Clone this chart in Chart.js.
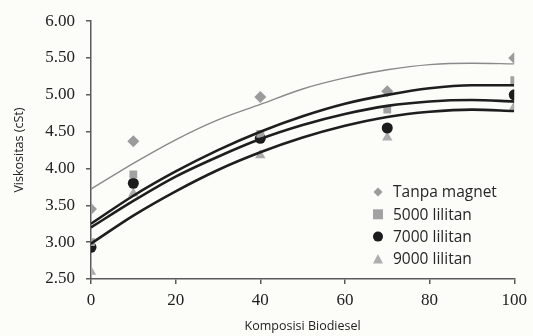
<!DOCTYPE html>
<html>
<head>
<meta charset="utf-8">
<script src="https://cdn.jsdelivr.net/npm/chart.js@4.4.1/dist/chart.umd.min.js"></script>
<style>
  html, body { margin: 0; padding: 0; background: #fcfcf8; }
  #wrap { width: 533px; height: 336px; }
</style>
</head>
<body>
<div id="wrap"><canvas id="viskositas"></canvas></div>
<script>
// data
var komposisi = [0, 10, 40, 70, 100];
var tanpaMagnet = [3.45, 4.37, 4.97, 5.05, 5.50];
var lilitan5000 = [3.00, 3.92, 4.47, 4.80, 5.20];
var lilitan7000 = [2.93, 3.80, 4.41, 4.55, 5.00];
var lilitan9000 = [2.60, 3.66, 4.18, 4.42, 4.84];

// trend lines (poly order 2), read at every 10 %
var trendX = [0, 10, 20, 30, 40, 50, 60, 70, 80, 90, 100];
var trendTanpa = [3.72, 4.07, 4.39, 4.66, 4.87, 5.08, 5.23, 5.34, 5.41, 5.43, 5.42];
var trend5000 = [3.25, 3.63, 3.96, 4.25, 4.50, 4.71, 4.88, 5.00, 5.09, 5.13, 5.13];
var trend7000 = [3.20, 3.56, 3.89, 4.16, 4.40, 4.59, 4.74, 4.85, 4.91, 4.93, 4.91];
var trend9000 = [2.98, 3.36, 3.69, 3.98, 4.22, 4.42, 4.58, 4.70, 4.77, 4.80, 4.78];

var seriesNames = ['Tanpa magnet', '5000 lilitan', '7000 lilitan', '9000 lilitan'];
var markerColors = ['#9b9b9b', '#a2a2a2', '#1c1c1c', '#adadad'];
var markerStyles = ['rectRot', 'rect', 'circle', 'triangle'];

function pts(xs, ys) {
   return xs.map(function (x, i) { return { x: x, y: ys[i] }; });
}

function trendSet(ys, color, width) {
   return {
      type: 'line',
      data: pts(trendX, ys),
      borderColor: color,
      borderWidth: width,
      pointRadius: 0,
      cubicInterpolationMode: 'monotone',
      fill: false,
      order: 1,
   };
}

function pointSet(i, ys, radius) {
   return {
      type: 'scatter',
      label: seriesNames[i],
      data: pts(komposisi, ys),
      pointStyle: markerStyles[i],
      pointRadius: radius,
      pointBackgroundColor: markerColors[i],
      pointBorderColor: markerColors[i],
      pointBorderWidth: 0,
      order: 2,
   };
}

var bgPlugin = {
   id: 'bg',
   beforeDraw: function (chart) {
      var ctx = chart.ctx;
      ctx.save();
      ctx.fillStyle = '#fcfcf8';
      ctx.fillRect(0, 0, chart.width, chart.height);
      ctx.restore();
   },
};

// legend inside the plot, bottom right
var legendPlugin = {
   id: 'insideLegend',
   afterDraw: function (chart) {
      var ctx = chart.ctx;
      var x0 = 378, y0 = 192, step = 22.3;
      ctx.save();
      ctx.font = '15.5px "Open Sans"';
      ctx.textBaseline = 'middle';
      for (var i = 0; i < seriesNames.length; i++) {
         var y = y0 + i * step;
         ctx.fillStyle = markerColors[i];
         ctx.beginPath();
         if (i == 0) {
            ctx.moveTo(x0, y - 4.5); ctx.lineTo(x0 + 4.5, y); ctx.lineTo(x0, y + 4.5); ctx.lineTo(x0 - 4.5, y);
         } else if (i == 1) {
            ctx.rect(x0 - 5, y - 5, 10, 10);
         } else if (i == 2) {
            ctx.arc(x0, y, 5, 0, Math.PI * 2);
         } else {
            ctx.moveTo(x0, y - 5); ctx.lineTo(x0 + 5, y + 4.5); ctx.lineTo(x0 - 5, y + 4.5);
         }
         ctx.closePath();
         ctx.fill();
         ctx.fillStyle = '#262626';
         ctx.fillText(seriesNames[i], x0 + 15, y + 1);
      }
      ctx.restore();
   },
};

new Chart('viskositas', {
   data: {
      datasets: [
         trendSet(trendTanpa, '#8a8a8a', 1.4),
         trendSet(trend5000, '#1e1e1e', 2.6),
         trendSet(trend7000, '#1e1e1e', 2.6),
         trendSet(trend9000, '#1e1e1e', 2.6),
         pointSet(0, tanpaMagnet, 6),
         pointSet(1, lilitan5000, 5.5),
         pointSet(2, lilitan7000, 5.5),
         pointSet(3, lilitan9000, 6),
      ],
   },
   options: {
      responsive: true,
      maintainAspectRatio: false,
      animation: false,
      layout: { padding: { left: 0, right: 15, top: 20, bottom: 0 } },
      plugins: {
         legend: { display: false },
         tooltip: { enabled: false },
      },
      scales: {
         x: {
            type: 'linear',
            min: 0,
            max: 100,
            border: { color: '#5a5a5a', width: 1.5 },
            grid: { drawOnChartArea: false, tickLength: 5, color: '#5a5a5a', lineWidth: 1.5 },
            ticks: {
               stepSize: 20,
               padding: 6,
               color: '#222',
               font: { family: '"Liberation Serif"', size: 17 },
            },
            title: {
               display: true,
               text: 'Komposisi Biodiesel',
               color: '#222',
               font: { family: '"Open Sans"', size: 12.5 },
               padding: { top: 0, bottom: 2 },
            },
            afterFit: function (scale) { scale.height = 57; },
         },
         y: {
            type: 'linear',
            min: 2.5,
            max: 6,
            border: { color: '#5a5a5a', width: 1.5 },
            grid: { drawOnChartArea: false, tickLength: 5, color: '#5a5a5a', lineWidth: 1.5 },
            ticks: {
               stepSize: 0.5,
               padding: 11,
               color: '#222',
               font: { family: '"Liberation Serif"', size: 17 },
               callback: function (v) { return v.toFixed(2); },
            },
            title: {
               display: true,
               text: 'Viskositas (cSt)',
               color: '#222',
               font: { family: '"Open Sans"', size: 12.5 },
               padding: { top: 12, bottom: 0 },
            },
            afterFit: function (scale) { scale.width = 91; },
         },
      },
   },
   plugins: [bgPlugin, legendPlugin],
});
</script>
</body>
</html>
